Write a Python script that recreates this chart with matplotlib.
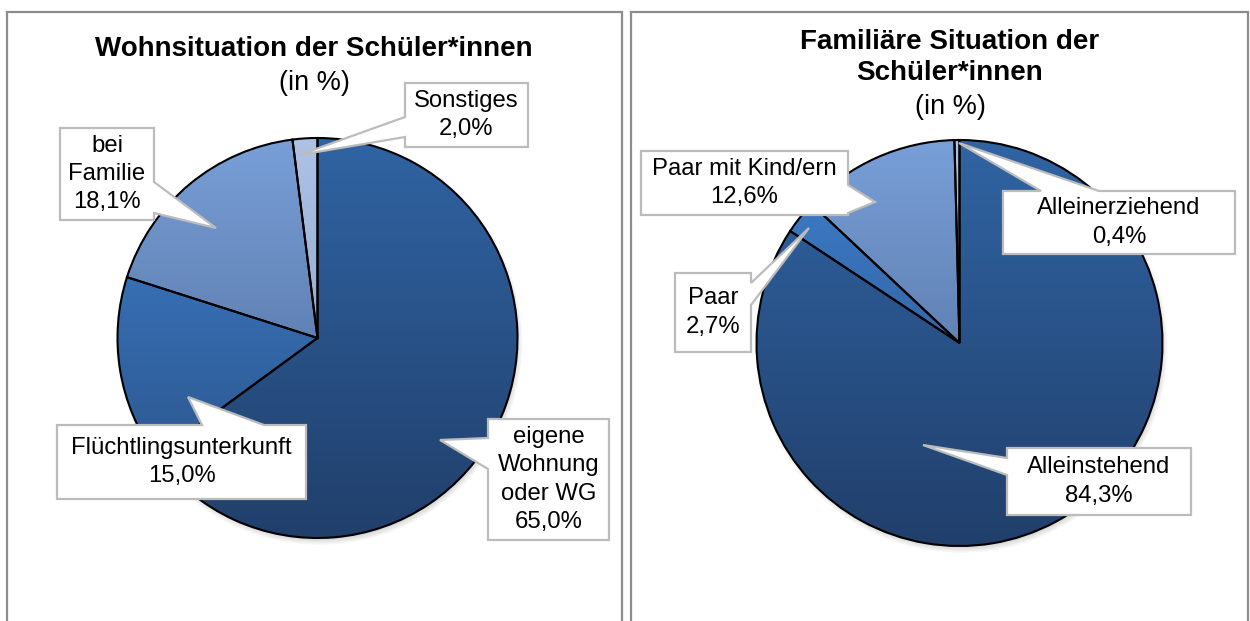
import numpy as np
import matplotlib
matplotlib.use("Agg")
import matplotlib.pyplot as plt
from matplotlib.patches import Polygon, Rectangle, Circle

plt.rcParams['font.family'] = ['Liberation Sans', 'DejaVu Sans']

W, H = 1250, 621

# ---------------- data ----------------
left_title = ["Wohnsituation der Schüler*innen"]
left_labels = ["eigene\nWohnung\noder WG", "Flüchtlingsunterkunft", "bei\nFamilie", "Sonstiges"]
left_values = [65.0, 15.0, 18.1, 2.0]

right_title = ["Familiäre Situation der", "Schüler*innen"]
right_labels = ["Alleinstehend", "Paar", "Paar mit Kind/ern", "Alleinerziehend"]
right_values = [84.3, 2.7, 12.6, 0.4]

subtitle = "(in %)"

# gradient colours (top, bottom) for each slice style
grad_colors = [("#3064a3", "#213f6b"),   # dark blue
               ("#3f80cf", "#284f82"),   # medium blue
               ("#789fd8", "#4a6490"),   # light blue
               ("#aec2e6", "#8197c0")]   # pale blue


def fmt(v):
    return f"{v:.1f}%".replace(".", ",")


def hex2rgb(h):
    h = h.lstrip('#')
    return np.array([int(h[i:i + 2], 16) / 255 for i in (0, 2, 4)])


fig = plt.figure(figsize=(W / 100, H / 100), dpi=100)
ax = fig.add_axes([0, 0, 1, 1])
ax.set_axis_off()


def Y(y):
    return H - y


# panel borders
for (x0, x1) in [(7, 622), (631, 1248)]:
    ax.add_patch(Rectangle((x0, Y(660)), x1 - x0, 660 - 12, fill=False,
                           edgecolor="#8c8c8c", linewidth=1.6, zorder=1))


def draw_pie(values, cx, cy, r):
    cyd = Y(cy)
    # soft shadow
    for k in range(7):
        ax.add_patch(Circle((cx + 2, cyd - 4), r + 3 - k, facecolor="black",
                            edgecolor="none", alpha=0.025, zorder=2))
    ax.add_patch(Circle((cx, cyd), r, facecolor="white", edgecolor="none", zorder=2.5))
    wedges, _ = ax.pie(values, startangle=90, counterclock=False, center=(cx, cyd),
                       radius=r, colors=["none"] * len(values),
                       wedgeprops=dict(edgecolor="black", linewidth=1.5, zorder=4))
    n = 256
    t = np.linspace(0, 1, n)[:, None, None]
    for i, w in enumerate(wedges):
        c_top, c_bot = (hex2rgb(c) for c in grad_colors[i])
        img = c_top * (1 - t) + c_bot * t
        im = ax.imshow(img, extent=(cx - r, cx + r, cyd - r, cyd + r), origin="upper",
                       aspect="auto", zorder=3, interpolation="bilinear")
        im.set_clip_path(w)
    return wedges


def callout(box, tip, side, base, text):
    x0, y0, x1, y1 = box
    a, b = base
    if side == "top":
        pts = [(x0, y0), (a, y0), tip, (b, y0), (x1, y0), (x1, y1), (x0, y1)]
    elif side == "right":
        pts = [(x0, y0), (x1, y0), (x1, a), tip, (x1, b), (x1, y1), (x0, y1)]
    elif side == "bottom":
        pts = [(x0, y0), (x1, y0), (x1, y1), (b, y1), tip, (a, y1), (x0, y1)]
    else:
        pts = [(x0, y0), (x1, y0), (x1, y1), (x0, y1), (x0, b), tip, (x0, a)]
    pts = [(px, Y(py)) for px, py in pts]
    ax.add_patch(Polygon(pts, closed=True, facecolor="white", edgecolor="#bcbcbc",
                         linewidth=1.6, joinstyle="miter", zorder=5))
    ax.text((x0 + x1) / 2, Y((y0 + y1) / 2), text, ha="center", va="center",
            fontsize=17.2, linespacing=1.38, color="black", zorder=6)


# ---------------- left chart ----------------
draw_pie(left_values, 317.5, 338, 200)
for i, line in enumerate(left_title):
    ax.text(314, Y(49 + i * 31), line, ha="center", va="center", fontsize=20,
            fontweight="bold", zorder=6)
ax.text(314, Y(83), subtitle, ha="center", va="center", fontsize=19.5, zorder=6)

left_specs = [
    ((488, 419, 609, 540), (440, 440), "left", (438, 469)),
    ((57, 425, 306, 499), (188, 397), "top", (202, 264)),
    ((60, 128, 154, 220), (216, 228), "right", (182, 213)),
    ((405, 83, 528, 147), (299, 155), "left", (117, 137)),
]
for lab, val, (box, tip, side, base) in zip(left_labels, left_values, left_specs):
    callout(box, tip, side, base, f"{lab}\n{fmt(val)}")

# ---------------- right chart ----------------
draw_pie(right_values, 959.5, 343, 203)
for i, line in enumerate(right_title):
    ax.text(950, Y(42 + i * 31), line, ha="center", va="center", fontsize=20,
            fontweight="bold", zorder=6)
ax.text(950, Y(107), subtitle, ha="center", va="center", fontsize=19.5, zorder=6)

right_specs = [
    ((1007, 448, 1191, 515), (923, 445), "left", (458, 475)),
    ((675, 273, 751, 352), (809, 228), "right", (283, 305)),
    ((641, 151, 848, 215), (875, 202), "right", (185, 213)),
    ((1003, 191, 1235, 254), (959, 143), "top", (1041, 1099)),
]
for lab, val, (box, tip, side, base) in zip(right_labels, right_values, right_specs):
    callout(box, tip, side, base, f"{lab}\n{fmt(val)}")

ax.set_xlim(0, W)
ax.set_ylim(0, H)
ax.set_aspect("auto")
fig.savefig("out.png", dpi=100, facecolor="white")
